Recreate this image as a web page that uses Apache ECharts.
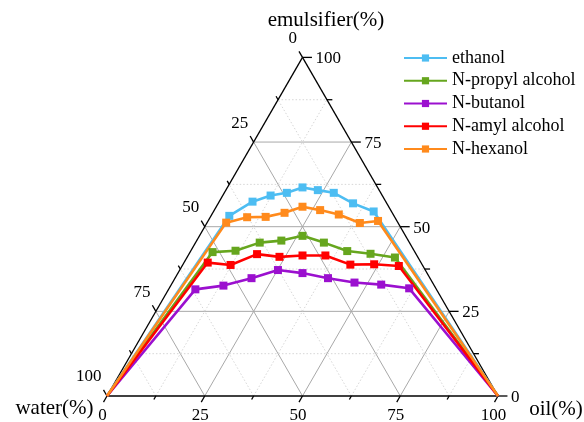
<!DOCTYPE html>
<html>
<head>
<meta charset="utf-8">
<script src="https://cdn.jsdelivr.net/npm/echarts@6/dist/echarts.min.js"></script>
<style>
html,body{margin:0;padding:0;background:#fff;}
#chart{width:584px;height:422px;}
</style>
</head>
<body>
<div id="chart"></div>
<script>
// oil share of the oil+water part (%), one per measured point
const ratios = [10, 20, 30, 40, 50, 60, 70, 80, 90];
// emulsifier (%) at each ratio
const ethanol = [53.2, 57.4, 59.2, 60.0, 61.6, 60.8, 60.0, 56.9, 54.5];
const propyl  = [42.5, 42.9, 45.3, 45.9, 47.3, 45.3, 42.8, 42.0, 40.9];
const butanol = [31.5, 32.6, 34.8, 37.2, 36.3, 34.8, 33.5, 32.9, 31.8];
const amyl    = [39.4, 38.7, 41.9, 41.1, 41.5, 41.5, 38.8, 38.9, 38.4];
const hexanol = [51.2, 52.8, 52.9, 54.1, 55.9, 54.9, 53.6, 51.1, 51.7];
const seriesNames = ['ethanol', 'N-propyl alcohol', 'N-butanol', 'N-amyl alcohol', 'N-hexanol'];
const seriesValues = [ethanol, propyl, butanol, amyl, hexanol];
const seriesColors = ['#4DBDF2', '#66A61E', '#9B10CF', '#FF0000', '#FF8A1C'];
const majorTicks = [0, 25, 50, 75, 100];
const minorTicks = [12.5, 37.5, 62.5, 87.5];
const axisTitles = ['emulsifier(%)', 'water(%)', 'oil(%)'];

const H = Math.sqrt(3) / 2;
const PX = 391; // px per data unit (layout)
const FONT = '"Liberation Serif","Times New Roman",serif';

// ternary (oil %, emulsifier %) -> cartesian data coords
function tern(o, e) { return [(o + e / 2) / 100, (e / 100) * H]; }

// series data: water vertex -> measured points -> oil vertex
function buildSeries(vals) {
  const pts = [{ value: tern(0, 0), symbol: 'none' }];
  vals.forEach((e, i) => {
    const oil = (100 - e) * ratios[i] / 100;
    pts.push({ value: tern(oil, e) });
  });
  pts.push({ value: tern(100, 0), symbol: 'none' });
  return pts;
}

// segments: [x1,y1,x2,y2,kind] kind 0=edge,1=major grid,2=minor grid,3=tick
const segs = [];
function seg(a, b, k) { segs.push([a[0], a[1], b[0], b[1], k]); }
seg(tern(0, 0), tern(100, 0), 0);
seg(tern(0, 0), tern(0, 100), 0);
seg(tern(100, 0), tern(0, 100), 0);
const inner = majorTicks.slice(1, -1).concat(minorTicks);
inner.forEach(v => {
  const k = majorTicks.indexOf(v) >= 0 ? 1 : 2;
  seg(tern(0, v), tern(100 - v, v), k);          // const emulsifier
  seg(tern(v, 0), tern(v, 100 - v), k);          // const oil
  seg(tern(100 - v, 0), tern(0, 100 - v), k);    // const water
});
function addTicks(list, len) {
  const L = len / PX;
  list.forEach(v => {
    // bottom (oil)
    let p = tern(v, 0); seg(p, [p[0] - 0.5 * L, p[1] - H * L], 3);
    // right (emulsifier)
    p = tern(100 - v, v); seg(p, [p[0] + L * 1.35, p[1]], 3);
    // left (water)
    p = tern(0, 100 - v); seg(p, [p[0] - 0.5 * L, p[1] + H * L], 3);
  });
}
addTicks(majorTicks, 7);
addTicks(minorTicks, 4);

// tick labels: [x, y, valueIndex, side] side 0=bottom 1=right 2=left
const labels = [];
majorTicks.forEach((v, i) => {
  labels.push(tern(v, 0).concat([i, 0]));
  labels.push(tern(100 - v, v).concat([i, 1]));
  labels.push(tern(0, 100 - v).concat([i, 2]));
});

const segStyles = [
  { stroke: '#000', lineWidth: 1.3 },
  { stroke: '#a8a8a8', lineWidth: 1 },
  { stroke: '#d6d6d6', lineWidth: 1, lineDash: [1.5, 2] },
  { stroke: '#000', lineWidth: 1.3 }
];

const chart = echarts.init(document.getElementById('chart'), null, { renderer: 'canvas' });
const series = [
  {
    type: 'custom', name: 'frame', silent: true, z: 1,
    encode: { x: [0, 2], y: [1, 3] },
    data: segs,
    renderItem(params, api) {
      const a = api.coord([api.value(0), api.value(1)]);
      const b = api.coord([api.value(2), api.value(3)]);
      const k = api.value(4);
      return { type: 'line', shape: { x1: a[0], y1: a[1], x2: b[0], y2: b[1] }, style: Object.assign({}, segStyles[k]), z2: k === 0 || k === 3 ? 10 : 1 };
    }
  },
  {
    type: 'custom', name: 'ticklabels', silent: true, z: 1,
    encode: { x: 0, y: 1 },
    data: labels,
    renderItem(params, api) {
      const p = api.coord([api.value(0), api.value(1)]);
      const side = api.value(3);
      const txt = String(majorTicks[api.value(2)]);
      let x = p[0], y = p[1], align = 'center';
      if (side === 0) { x -= 4.5; y += 20; }
      else if (side === 1) { x += 13; y += 1.5; align = 'left'; }
      else { x -= 5.5; y -= 19; align = 'right'; }
      return { type: 'text', x: x, y: y, style: { text: txt, fill: '#000', font: '17px ' + FONT, align: align, verticalAlign: 'middle' } };
    }
  }
];
seriesNames.forEach((n, i) => {
  series.push({
    type: 'line', name: n, z: 5,
    data: buildSeries(seriesValues[i]),
    symbol: 'rect', symbolSize: 8,
    color: seriesColors[i],
    lineStyle: { width: 2.6, color: seriesColors[i] },
    itemStyle: { color: seriesColors[i] },
    clip: false, animation: false
  });
});

chart.setOption({
  animation: false,
  grid: { left: 107, right: 86, top: 57.4, bottom: 26 },
  xAxis: { type: 'value', min: 0, max: 1, show: false },
  yAxis: { type: 'value', min: 0, max: H, show: false },
  legend: {
    data: seriesNames, orient: 'vertical', left: 403, top: 49, padding: 0,
    itemWidth: 43, itemHeight: 9, itemGap: 4.75, selectedMode: false,
    textStyle: { fontFamily: FONT, fontSize: 18, color: '#000', lineHeight: 18 }
  },
  graphic: [
    { type: 'text', x: 326, y: 20, style: { text: axisTitles[0], font: '21px ' + FONT, fill: '#000', align: 'center', verticalAlign: 'middle' } },
    { type: 'text', x: 54.5, y: 408, style: { text: axisTitles[1], font: '21px ' + FONT, fill: '#000', align: 'center', verticalAlign: 'middle' } },
    { type: 'text', x: 556, y: 409, style: { text: axisTitles[2], font: '21px ' + FONT, fill: '#000', align: 'center', verticalAlign: 'middle' } }
  ],
  series: series
});
</script>
</body>
</html>
